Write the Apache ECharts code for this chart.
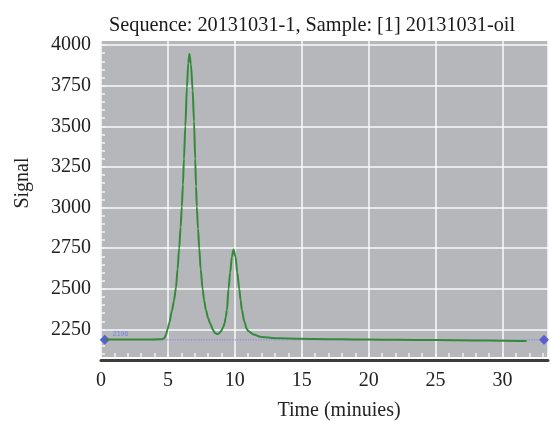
<!DOCTYPE html>
<html>
<head>
    <meta charset="utf-8">
    <title>ECharts</title>
    <script src="https://cdn.jsdelivr.net/npm/echarts@6/dist/echarts.min.js"></script>
</head>
<style>
html,
body {
    margin: 0px;
    width: 100%;
    height: 100%;
    background: #fff;
}
div#main {
    width: 551px;
    height: 421px;
}
</style>
<body>
    <div id="main"></div>
    <script type="text/javascript">
        var titleText = 'Sequence: 20131031-1, Sample: [1] 20131031-oil';

        // chromatogram
        var timeMin = [0.3, 1, 2, 3, 4, 4.5, 4.72, 4.85, 4.97, 5.1, 5.3, 5.45, 5.6, 5.72, 5.84, 5.95,
            6.04, 6.12, 6.2, 6.3, 6.42, 6.52, 6.61, 6.72, 6.85, 6.95, 7.04, 7.1, 7.16, 7.25, 7.34,
            7.45, 7.59, 7.7, 7.84, 8.0, 8.16, 8.35, 8.5, 8.66, 8.8, 8.92, 9.03, 9.13, 9.23, 9.32,
            9.41, 9.53, 9.65, 9.78, 9.9, 10.05, 10.18, 10.33, 10.43, 10.53, 10.7, 10.9, 11.0, 11.4,
            12.0, 13, 14, 16, 18, 20, 22, 25, 28, 30, 31.8];
        var signal = [2188, 2188, 2188, 2188, 2188, 2189, 2195, 2215, 2250, 2290, 2365, 2425, 2505, 2620, 2750, 2880,
            3005, 3140, 3300, 3500, 3740, 3890, 3945, 3880, 3720, 3530, 3300, 3130, 3005, 2870, 2750,
            2620, 2500, 2430, 2369, 2320, 2287, 2250, 2230, 2221, 2224, 2235, 2246, 2265, 2287, 2325,
            2369, 2500, 2600, 2697, 2742, 2697, 2600, 2500, 2430, 2369, 2300, 2252, 2240, 2218,
            2203, 2196, 2194, 2191, 2189, 2187, 2186, 2184, 2182, 2180, 2178];

        // dotted baseline marker between the two diamonds
        var baseX = [0.28, 33.1];
        var baseY = [2186, 2186];
        var baseLabel = '2196';

        var yLabels = [2250, 2500, 2750, 3000, 3250, 3500, 3750, 4000];
        var yMinorStep = 50;
        var yMin = 2080, yMax = 4025;
        var xMin = 0, xMax = 33.4, xStep = 5;

        var yMinor = [];
        for (var v = yMin + 20; v <= 4000; v += yMinorStep) yMinor.push(v);

        var font = 'Liberation Serif';
        var grid = '#b5b7ba';

        var option = {
            animation: false,
            title: {
                text: titleText,
                left: 104,
                top: 11,
                textStyle: { fontFamily: font, fontSize: 20.3, fontWeight: 'normal', color: '#1a1a1a' }
            },
            grid: {
                left: 101, right: 3, top: 41, bottom: 64,
                outerBoundsMode: 'none', containLabel: false,
                show: true, backgroundColor: grid, borderWidth: 0
            },
            xAxis: [{
                type: 'value', min: xMin, max: xMax, interval: xStep,
                axisLine: { show: false },
                axisTick: { show: true, inside: true, length: 4, lineStyle: { color: '#f4f4f4', width: 1.5 } },
                minorTick: { show: true, splitNumber: 5, length: 4, lineStyle: { color: '#f4f4f4', width: 1.5 } },
                axisLabel: {
                    margin: 14, fontFamily: font, fontSize: 20, color: '#222',
                    showMaxLabel: false
                },
                splitLine: { show: true, lineStyle: { color: '#fafafa', width: 1.5 } },
                name: 'Time (minuies)', nameLocation: 'middle', nameGap: 44,
                nameTextStyle: { fontFamily: font, fontSize: 20, color: '#222', padding: [0, 0, 0, 29] }
            }, {
                type: 'value', min: xMin, max: xMax, position: 'bottom', offset: 3,
                axisLine: { show: true, lineStyle: { color: '#3c3c3c', width: 3 } },
                axisTick: { show: false }, axisLabel: { show: false }, splitLine: { show: false }
            }],
            yAxis: [{
                type: 'value', min: yMin, max: yMax,
                axisLine: { show: false },
                axisTick: { show: false, customValues: yLabels },
                axisLabel: {
                    customValues: yLabels, margin: 10, fontFamily: font, fontSize: 20, color: '#222',
                    formatter: function (v) { return String(v); }
                },
                splitLine: { show: true, lineStyle: { color: '#fafafa', width: 1.5 } },
                name: 'Signal', nameLocation: 'middle', nameGap: 68, nameRotate: 90,
                nameTextStyle: { fontFamily: font, fontSize: 20, color: '#222', padding: [0, 0, 0, 32] }
            }, {
                type: 'value', min: yMin, max: yMax, position: 'left',
                axisLine: { show: false },
                axisTick: { show: true, inside: true, length: 4, customValues: yMinor, lineStyle: { color: '#f4f4f4', width: 1.5 } },
                axisLabel: { show: false }, splitLine: { show: false }
            }],
            series: [{
                type: 'line',
                data: baseX.map(function (x, i) { return [x, baseY[i]]; }),
                symbol: 'diamond', symbolSize: 10, showSymbol: true,
                itemStyle: { color: '#5a5fd0' },
                lineStyle: { color: '#8e92ea', width: 1.3, type: 'dotted' },
                label: {
                    show: true, position: 'right', offset: [-2, -6], fontSize: 7, color: '#7c82e6',
                    formatter: function (p) { return p.dataIndex === 0 ? baseLabel : ''; }
                },
                z: 3
            }, {
                type: 'line',
                data: timeMin.map(function (t, i) { return [t, signal[i]]; }),
                showSymbol: false, symbol: 'none',
                smooth: 0.3, smoothMonotone: 'x',
                lineStyle: { color: '#348a3a', width: 2 },
                z: 4
            }]
        };

        var myChart = echarts.init(document.getElementById('main'));
        myChart.setOption(option);
    </script>
</body>
</html>
